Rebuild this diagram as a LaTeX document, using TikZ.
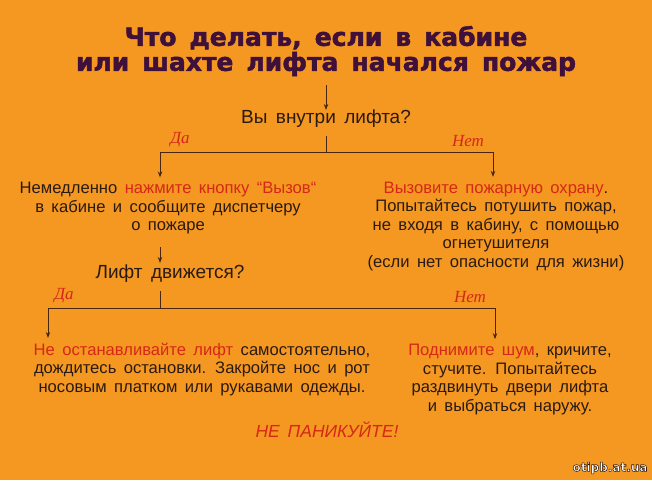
\documentclass[tikz,border=0pt]{standalone}
\usepackage{fontspec}
\setmainfont{Liberation Sans}[WordSpace=1.6]
\newfontfamily\titlefont{DejaVu Sans}[WordSpace=1.5,FakeBold=2]
\newfontfamily\handfont{Liberation Serif}
\newfontfamily\markfont{DejaVu Sans}[FakeBold=4.5]
\usetikzlibrary{arrows.meta}
\definecolor{bg}{RGB}{244,152,34}
\definecolor{ttl}{RGB}{62,16,58}
\definecolor{ink}{RGB}{42,26,18}
\definecolor{rd}{RGB}{214,40,22}
\definecolor{ln}{RGB}{72,38,14}
\tikzset{
  body/.style={text=ink, align=center, inner sep=0pt, font=\fontsize{16.6}{18.5}\selectfont},
  quest/.style={text=ink, inner sep=0pt, font=\fontsize{19}{20}\selectfont},
  hand/.style={text=rd, inner sep=0pt, font=\handfont\itshape\fontsize{17}{17}\selectfont},
  conn/.style={draw=ln, line width=0.9pt},
  arr/.style={conn, -{Stealth[length=6pt,width=4.5pt]}},
}
\begin{document}
\begin{tikzpicture}[x=1pt,y=-1pt]
\fill[bg] (0,0) rectangle (652,480);
\useasboundingbox (0,0) rectangle (652,480);

\node[text=ttl, align=center, inner sep=0pt, font=\titlefont\bfseries\fontsize{25}{25}\selectfont] (title) at (326,51)
  {Что делать, если в кабине\\или шахте лифта начался пожар};

\node[quest] (q1) at (326,119) {Вы внутри лифта?};
\coordinate (t1) at (326,85);
\draw[arr] (t1) -- (q1.north);

\coordinate (j1) at (326,152);
\coordinate (l1) at (160,152);
\coordinate (r1) at (493,152);

\node[body] (a1) at (168,208.5) {Немедленно \textcolor{rd}{нажмите кнопку “Вызов“}\\в кабине и сообщите диспетчеру\\о пожаре};
\node[body] (b1) at (496,226.5) {\textcolor{rd}{Вызовите пожарную охрану}.\\Попытайтесь потушить пожар,\\не входя в кабину, с помощью\\огнетушителя\\(если нет опасности для жизни)};

\draw[conn] ([yshift=-8pt]q1.south) -- (j1);
\draw[arr] (j1) -- (l1) -- ([yshift=5pt]a1.north -| l1);
\draw[arr] (j1) -- (r1) -- ([yshift=5pt]b1.north -| r1);

\node[hand] (da1) at (180,140) {Да};
\node[hand] (net1) at (468,141) {Нет};

\node[quest] (q2) at (170,274) {Лифт движется?};
\coordinate (a1s) at (160,247);
\draw[arr] (a1s) -- ([yshift=2pt]a1s |- q2.north);

\coordinate (j2) at (160,308);
\coordinate (l2) at (48,308);
\coordinate (r2) at (495,308);

\node[body] (a2) at (202,369.5) {\textcolor{rd}{Не останавливайте лифт} самостоятельно,\\дождитесь остановки. Закройте нос и рот\\носовым платком или рукавами одежды.};
\node[body] (b2) at (510,379.5) {\textcolor{rd}{Поднимите шум}, кричите,\\стучите. Попытайтесь\\раздвинуть двери лифта\\и выбраться наружу.};

\draw[conn] ([yshift=-8pt]j2 |- q2.south) -- (j2);
\draw[arr] (j2) -- (l2) -- ([yshift=5pt]a2.north -| l2);
\draw[arr] (j2) -- (r2) -- ([yshift=5pt]b2.north -| r2);

\node[hand] (da2) at (64,296) {Да};
\node[hand] (net2) at (470,297) {Нет};

\node[text=rd, inner sep=0pt, font=\itshape\fontsize{17.5}{18}\selectfont] (panic) at (327,430) {НЕ ПАНИКУЙТЕ!};

\node[inner sep=0pt, font=\markfont\bfseries\fontsize{12}{12}\selectfont] (wm) at (610,468)
  {\special{pdf:bcolor [1 1 1] [0.165 0.1 0.07]}otipb.at.ua\special{pdf:ecolor}};
\end{tikzpicture}
\end{document}
